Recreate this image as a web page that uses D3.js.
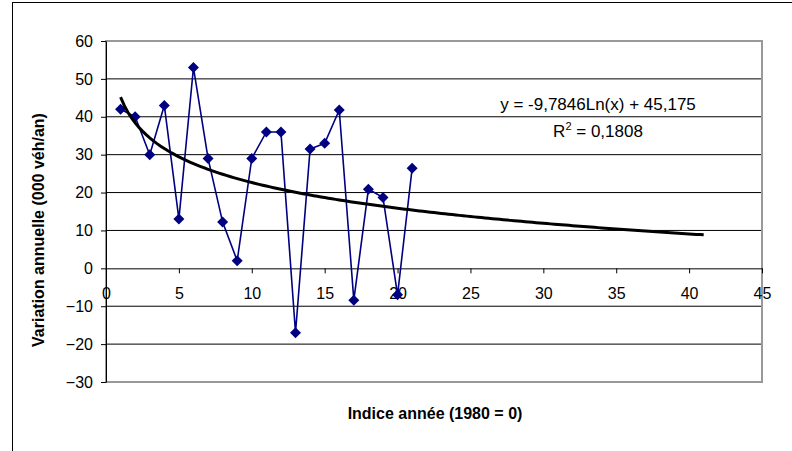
<!DOCTYPE html>
<html>
<head>
<meta charset="utf-8">
<script src="https://cdn.jsdelivr.net/npm/d3@7"></script>
<style>
  body { margin: 0; background: #fff; }
  svg { font-family: "Liberation Sans", Arial, sans-serif; }
</style>
</head>
<body>
<svg id="chart" width="792" height="451"></svg>
<script>
// Years index (1980 = 0) and yearly variation (000 veh/an)
const years = [1, 2, 3, 4, 5, 6, 7, 8, 9, 10, 11, 12, 13, 14, 15, 16, 17, 18, 19, 20, 21];
const variation = [42, 40, 30, 43, 13, 53, 29, 12.2, 2, 29, 36, 36, -17, 31.5, 33, 41.8, -8.4, 20.9, 18.7, -7, 26.4];

const xTicks = [0, 5, 10, 15, 20, 25, 30, 35, 40, 45];
const yTicks = [60, 50, 40, 30, 20, 10, 0, -10, -20, -30];

// log trendline as printed on the chart
const trendA = -9.7846;
const trendB = 45.175;
const trendRange = [1, 41];
const eqLabel = "y = -9,7846Ln(x) + 45,175";
const r2Value = "0,1808";

const svg = d3.select("#chart");

// chart area frame
svg.append("rect")
    .attr("x", 12.5).attr("y", 2.5)
    .attr("width", 800).attr("height", 470)
    .attr("fill", "none")
    .attr("stroke", "#000")
    .attr("stroke-width", 1);

const plot = { left: 106, right: 762, top: 41, bottom: 382 };

const x = d3.scaleLinear().domain([0, 45]).range([plot.left, plot.right]);
const y = d3.scaleLinear().domain([-30, 60]).range([plot.bottom, plot.top]);

// horizontal gridlines
svg.append("g")
    .selectAll("line")
    .data(yTicks.filter(d => d !== 60 && d !== -30 && d !== 0))
    .enter()
    .append("line")
    .attr("x1", plot.left).attr("x2", plot.right)
    .attr("y1", d => y(d)).attr("y2", d => y(d))
    .attr("stroke", "#000")
    .attr("stroke-width", 1);

// plot area border (grey)
svg.append("rect")
    .attr("x", plot.left).attr("y", plot.top)
    .attr("width", plot.right - plot.left)
    .attr("height", plot.bottom - plot.top)
    .attr("fill", "none")
    .attr("stroke", "#999")
    .attr("stroke-width", 2);

// y axis
const yAxis = svg.append("g")
    .attr("transform", `translate(${plot.left},0)`)
    .call(d3.axisLeft(y).tickValues(yTicks).tickSize(5).tickSizeOuter(0).tickPadding(8));
yAxis.select(".domain").attr("stroke", "#000");
yAxis.selectAll(".tick line").attr("stroke", "#000");
yAxis.selectAll("text")
    .attr("font-size", 16)
    .attr("font-family", "Liberation Sans, Arial, sans-serif")
    .attr("fill", "#000");

// x axis crossing at y = 0
const xAxis = svg.append("g")
    .attr("transform", `translate(0,${y(0)})`)
    .call(d3.axisBottom(x).tickValues(xTicks).tickSize(5).tickSizeOuter(0).tickPadding(14));
xAxis.select(".domain").attr("stroke", "#000");
xAxis.selectAll(".tick line").attr("stroke", "#000");
xAxis.selectAll("text")
    .attr("font-size", 16)
    .attr("font-family", "Liberation Sans, Arial, sans-serif")
    .attr("fill", "#000");

// data line
const pts = years.map((yr, i) => ({ x: yr, y: variation[i] }));

svg.append("path")
    .datum(pts)
    .attr("fill", "none")
    .attr("stroke", "#000080")
    .attr("stroke-width", 1.6)
    .attr("d", d3.line().x(d => x(d.x)).y(d => y(d.y)));

// diamond markers
svg.append("g")
    .selectAll("path")
    .data(pts)
    .enter()
    .append("path")
    .attr("transform", d => `translate(${x(d.x)},${y(d.y)})`)
    .attr("d", "M0,-5.5L5.5,0L0,5.5L-5.5,0Z")
    .attr("fill", "#000080");

// trendline
const trendX = d3.range(trendRange[0], trendRange[1] + 0.01, 0.25);
svg.append("path")
    .datum(trendX)
    .attr("fill", "none")
    .attr("stroke", "#000")
    .attr("stroke-width", 3)
    .attr("d", d3.line().x(d => x(d)).y(d => y(trendA * Math.log(d) + trendB)));

// equation label
svg.append("text")
    .attr("x", 598).attr("y", 110)
    .attr("text-anchor", "middle")
    .attr("font-size", 17)
    .text(eqLabel);

const r2 = svg.append("text")
    .attr("x", 598).attr("y", 137)
    .attr("text-anchor", "middle")
    .attr("font-size", 17);
r2.append("tspan").text("R");
r2.append("tspan").attr("dy", -7).attr("font-size", 11).text("2");
r2.append("tspan").attr("dy", 7).text(" = " + r2Value);

// axis titles
svg.append("text")
    .attr("x", 435).attr("y", 419)
    .attr("text-anchor", "middle")
    .attr("font-size", 16)
    .attr("font-weight", "bold")
    .text("Indice année (1980 = 0)");

svg.append("text")
    .attr("transform", "translate(44,230) rotate(-90)")
    .attr("text-anchor", "middle")
    .attr("font-size", 16)
    .attr("font-weight", "bold")
    .text("Variation annuelle (000 véh/an)");
</script>
</body>
</html>
